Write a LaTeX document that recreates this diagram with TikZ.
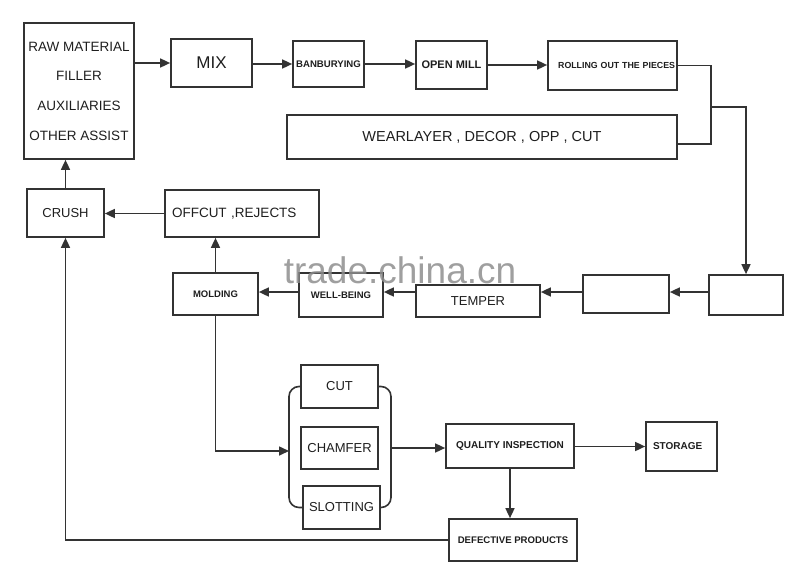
\documentclass[tikz,border=0pt]{standalone}
\usepackage{fontspec}
\setmainfont{Liberation Sans}
\usetikzlibrary{arrows.meta}
\definecolor{ln}{HTML}{333333}
\definecolor{tx}{HTML}{1E1E1E}
\definecolor{wm}{HTML}{8E8E8E}
\newcommand\myfs[1]{\fontsize{#1}{#1}\selectfont}
\begin{document}
\begin{tikzpicture}[x=1pt,y=-1pt,
  box/.style={draw=ln,line width=1.7pt,inner sep=0pt,text=tx,align=center},
  conn/.style={draw=ln,line width=1.6pt},
  arr/.style={draw=ln,line width=1.6pt,-{Triangle[length=10pt,width=9pt]}}]
\useasboundingbox (0,0) rectangle (800,573);
% top row
\node[box,minimum width=110pt,minimum height=136pt,font=\fontsize{13.5}{29.7}\selectfont] (raw) at (79,91)
  {RAW MATERIAL\\FILLER\\AUXILIARIES\\OTHER ASSIST};
\node[box,minimum width=81pt,minimum height=48pt,font=\myfs{17}] (mix) at (211.5,63) {MIX};
\node[box,minimum width=71pt,minimum height=46pt,font=\bfseries\myfs{9.6}] (ban) at (328.5,64) {BANBURYING};
\node[box,minimum width=71pt,minimum height=48pt,font=\bfseries\myfs{11}] (open) at (451.5,65) {OPEN MILL};
\node[box,minimum width=129pt,minimum height=49pt,text width=125pt,align=right,font=\bfseries\myfs{8.8}] (roll) at (612.5,65.5) {ROLLING OUT THE PIECES};
\node[box,minimum width=390pt,minimum height=44pt,font=\myfs{14.5}] (wear) at (482,137) {WEARLAYER , DECOR , OPP , CUT};
% second row
\node[box,minimum width=77pt,minimum height=48pt,font=\myfs{13}] (crush) at (65.5,213) {CRUSH};
\node[box,minimum width=154pt,minimum height=47pt,inner xsep=7pt,text width=140pt,align=left,font=\myfs{13.5}] (offcut) at (242,213.5) {OFFCUT ,REJECTS};
% third row
\node[box,minimum width=85pt,minimum height=42pt,font=\bfseries\myfs{9.5}] (molding) at (215.5,294) {MOLDING};
\node[box,minimum width=84pt,minimum height=44pt,font=\bfseries\myfs{9.5}] (well) at (341,295) {WELL-BEING};
\node[box,minimum width=124pt,minimum height=32pt,font=\myfs{13}] (temper) at (478,301) {TEMPER};
\node[box,minimum width=86pt,minimum height=38pt] (boxd) at (626,294) {};
\node[box,minimum width=74pt,minimum height=40pt] (boxe) at (746,295) {};
% lower group
\node[box,minimum width=77pt,minimum height=43pt,font=\myfs{13}] (cut) at (339.5,386.5) {CUT};
\node[box,minimum width=77pt,minimum height=42pt,font=\myfs{13}] (chamfer) at (339.5,448) {CHAMFER};
\node[box,minimum width=77pt,minimum height=43pt,font=\myfs{13}] (slot) at (341.5,507.5) {SLOTTING};
\node[box,minimum width=128pt,minimum height=44pt,font=\bfseries\myfs{10}] (qi) at (510,446) {QUALITY INSPECTION};
\node[box,minimum width=71pt,minimum height=49pt,inner xsep=7pt,text width=57pt,align=left,font=\bfseries\myfs{10}] (storage) at (681.5,446.5) {STORAGE};
\node[box,minimum width=128pt,minimum height=42pt,font=\bfseries\myfs{9.6}] (defect) at (513,540) {DEFECTIVE PRODUCTS};
% coordinates
\coordinate (j1) at (711,107);
\coordinate (row) at (0,292);
\coordinate (bl) at (289,451);
\coordinate (br) at (391,448);
% connectors
\draw[arr] (raw.east |- mix.west) -- (mix.west);
\draw[arr] (mix.east |- ban.west) -- (ban.west);
\draw[arr] (ban.east) -- (ban.east -| open.west);
\draw[arr] (open.east) -- (open.east -| roll.west);
\draw[conn] (roll.east) -| (j1) |- ([yshift=-7pt]wear.east);
\draw[arr] (j1) -| (boxe.north);
\draw[arr] (boxe.west |- row) -- (boxd.east |- row);
\draw[arr] (boxd.west |- row) -- (temper.east |- row);
\draw[arr] (temper.west |- row) -- (well.east |- row);
\draw[arr] (well.west |- row) -- (molding.east |- row);
\draw[arr] (molding.north) -- (molding.north |- offcut.south);
\draw[arr] (offcut.west) -- (offcut.west -| crush.east);
\draw[arr] (crush.north) -- (crush.north |- raw.south);
\draw[arr] (defect.west) -| (crush.south);
\draw[arr] (molding.south) |- (bl);
\draw[conn,rounded corners=10pt] (cut.west) -| (bl) |- (slot.west);
\draw[conn,rounded corners=10pt] (cut.east) -| (br) |- (slot.east);
\draw[arr] (br) -- (qi.west |- br);
\draw[arr] (qi.east |- storage.west) -- (storage.west);
\draw[arr] (qi.south) -- (qi.south |- defect.north);
% watermark
\node[text=wm,opacity=0.85,font=\myfs{37}] (wmark) at (400,270) {trade.china.cn};
\end{tikzpicture}
\end{document}
